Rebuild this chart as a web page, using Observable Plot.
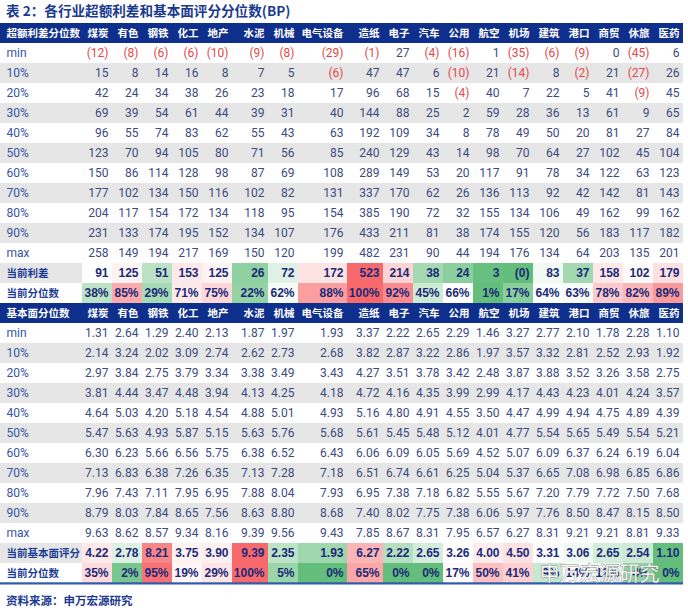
<!DOCTYPE html>
<html><head><meta charset="utf-8">
<script src="https://cdn.jsdelivr.net/npm/d3@7"></script>
<script src="https://cdn.jsdelivr.net/npm/@observablehq/plot@0.6"></script>
<style>
body{margin:0;background:#fff;width:688px;}
#title{height:19px;line-height:20px;font-family:"Noto Sans CJK SC";font-weight:bold;font-size:13.6px;color:#1a3a8f;padding-left:6px;white-space:nowrap;overflow:hidden;}
#source{height:20px;line-height:20px;font-family:"Noto Sans CJK SC";font-weight:bold;font-size:11.5px;color:#1a3a8f;padding-left:6px;white-space:nowrap;}
#chart svg{display:block;}
</style></head><body>
<div id="title">表 2：各行业超额利差和基本面评分分位数(BP)</div>
<div id="chart"></div>
<div id="source">资料来源：申万宏源研究</div>
<script>
// ---------- data ----------
const industries = ["煤炭","有色","钢铁","化工","地产","水泥","机械","电气设备","造纸","电子","汽车","公用","航空","机场","建筑","港口","商贸","休旅","医药"];
const quantiles = ["min","10%","20%","30%","40%","50%","60%","70%","80%","90%","max"];
const spreadHeader = "超额利差分位数";
const scoreHeader = "基本面分位数";
const spreadCurLabel = "当前利差";
const scoreCurLabel = "当前基本面评分";
const pctLabel = "当前分位数";

const spreadMin = [-12,-8,-6,-6,-10,-9,-8,-29,-1,27,-4,-16,1,-35,-6,-9,0,-45,6];
const spreadP10 = [15,8,14,16,8,7,5,-6,47,47,6,-10,21,-14,8,-2,21,-27,26];
const spreadP20 = [42,24,34,38,26,23,18,17,96,68,15,-4,40,7,22,5,41,-9,45];
const spreadP30 = [69,39,54,61,44,39,31,40,144,88,25,2,59,28,36,13,61,9,65];
const spreadP40 = [96,55,74,83,62,55,43,63,192,109,34,8,78,49,50,20,81,27,84];
const spreadP50 = [123,70,94,105,80,71,56,85,240,129,43,14,98,70,64,27,102,45,104];
const spreadP60 = [150,86,114,128,98,87,69,108,289,149,53,20,117,91,78,34,122,63,123];
const spreadP70 = [177,102,134,150,116,102,82,131,337,170,62,26,136,113,92,42,142,81,143];
const spreadP80 = [204,117,154,172,134,118,95,154,385,190,72,32,155,134,106,49,162,99,162];
const spreadP90 = [231,133,174,195,152,134,107,176,433,211,81,38,174,155,120,56,183,117,182];
const spreadMax = [258,149,194,217,169,150,120,199,482,231,90,44,194,176,134,64,203,135,201];
const spreadCurrent = [91,125,51,153,125,26,72,172,523,214,38,24,3,-0.2,83,37,158,102,179];
const spreadPct = [38,85,29,71,75,22,62,88,100,92,45,66,1,17,64,63,78,82,89];

const scoreMin = [1.31,2.64,1.29,2.40,2.13,1.87,1.97,1.93,3.37,2.22,2.65,2.29,1.46,3.27,2.77,2.10,1.78,2.28,1.10];
const scoreP10 = [2.14,3.24,2.02,3.09,2.74,2.62,2.73,2.68,3.82,2.87,3.22,2.86,1.97,3.57,3.32,2.81,2.52,2.93,1.92];
const scoreP20 = [2.97,3.84,2.75,3.79,3.34,3.38,3.49,3.43,4.27,3.51,3.78,3.42,2.48,3.87,3.88,3.52,3.26,3.58,2.75];
const scoreP30 = [3.81,4.44,3.47,4.48,3.94,4.13,4.25,4.18,4.72,4.16,4.35,3.99,2.99,4.17,4.43,4.23,4.01,4.24,3.57];
const scoreP40 = [4.64,5.03,4.20,5.18,4.54,4.88,5.01,4.93,5.16,4.80,4.91,4.55,3.50,4.47,4.99,4.94,4.75,4.89,4.39];
const scoreP50 = [5.47,5.63,4.93,5.87,5.15,5.63,5.76,5.68,5.61,5.45,5.48,5.12,4.01,4.77,5.54,5.65,5.49,5.54,5.21];
const scoreP60 = [6.30,6.23,5.66,6.56,5.75,6.38,6.52,6.43,6.06,6.09,6.05,5.69,4.52,5.07,6.09,6.37,6.24,6.19,6.04];
const scoreP70 = [7.13,6.83,6.38,7.26,6.35,7.13,7.28,7.18,6.51,6.74,6.61,6.25,5.04,5.37,6.65,7.08,6.98,6.85,6.86];
const scoreP80 = [7.96,7.43,7.11,7.95,6.95,7.88,8.04,7.93,6.95,7.38,7.18,6.82,5.55,5.67,7.20,7.79,7.72,7.50,7.68];
const scoreP90 = [8.79,8.03,7.84,8.65,7.56,8.63,8.80,8.68,7.40,8.02,7.75,7.38,6.06,5.97,7.76,8.50,8.47,8.15,8.50];
const scoreMax = [9.63,8.62,8.57,9.34,8.16,9.39,9.56,9.43,7.85,8.67,8.31,7.95,6.57,6.27,8.31,9.21,9.21,8.81,9.33];
const scoreCurrent = [4.22,2.78,8.21,3.75,3.90,9.39,2.35,1.93,6.27,2.22,2.65,3.26,4.00,4.50,3.31,3.06,2.65,2.54,1.10];
const scorePct = [35,2,95,19,29,100,5,0,65,0,0,17,50,41,9,14,12,4,0];

const watermarkText = "申万宏源研究";

// ---------- layout (styles) ----------
const C = {
  header: "#0f2f8c", zebra: "#e6e6e6", label: "#3554a5", num: "#3c4a80",
  neg: "#e3484b", bold: "#1b2a78", boldLabel: "#1d3c93", line: "#2f5cad",
  green: "#63BE7B", mid: "#FFFFFF", red: "#F8696B"
};
const CJK = "Noto Sans CJK SC";
const NUM = "'Liberation Sans Narrow', 'Arial Narrow', Roboto, sans-serif";
const BOLDNUM = "'Liberation Sans', Arial, sans-serif";
const labelUnits = 82;
const colUnits = n => n === "电气设备" ? 49 : (n === "水泥" || n === "造纸") ? 36 : 30;

const colLeft = {}, colRight = {};
let acc = labelUnits;
industries.forEach(n => { colLeft[n] = acc; acc += colUnits(n); colRight[n] = acc; });
const total = acc;

// ---------- rows ----------
const spreadRows = [spreadMin,spreadP10,spreadP20,spreadP30,spreadP40,spreadP50,spreadP60,spreadP70,spreadP80,spreadP90,spreadMax];
const scoreRows = [scoreMin,scoreP10,scoreP20,scoreP30,scoreP40,scoreP50,scoreP60,scoreP70,scoreP80,scoreP90,scoreMax];

const rowKeys = ["h1", ...quantiles.map(q => "s" + q), "s_cur", "s_pct", "h2", ...quantiles.map(q => "f" + q), "f_cur", "f_pct"];
const zebra = [];
["s", "f"].forEach(t => {
  quantiles.forEach((q, i) => { if (i % 2 === 1) zebra.push(t + q); });
  zebra.push(t + "_cur");
});

const fmtSpread = v => v < 0 ? `(${Math.abs(Math.round(v))})` : `${Math.round(v)}`;
const fmtScore = v => v.toFixed(2);
const fmtPct = v => `${v}%`;

function heat(values) {
  const s = d3.scaleLinear()
    .domain([d3.min(values), d3.median(values), d3.max(values)])
    .range([C.green, C.mid, C.red])
    .interpolate(d3.interpolateRgb);
  return values.map(s);
}

const valueCells = [];
const labelCells = [];
const heatCells = [];
const boldCells = [];
const boldLabels = [];

function addTable(prefix, rows, fmt, cur, pct, curLabel) {
  rows.forEach((arr, r) => {
    const key = prefix + quantiles[r];
    labelCells.push({y: key, text: quantiles[r]});
    arr.forEach((v, i) => valueCells.push({y: key, x: colRight[industries[i]], text: fmt(v), fill: v < 0 ? C.neg : C.num}));
  });
  const curFill = heat(cur), pctFill = heat(pct);
  cur.forEach((v, i) => {
    heatCells.push({y: prefix + "_cur", x1: colLeft[industries[i]], x2: colRight[industries[i]], fill: curFill[i]});
    boldCells.push({y: prefix + "_cur", x: colRight[industries[i]], text: fmt(v)});
  });
  pct.forEach((v, i) => {
    heatCells.push({y: prefix + "_pct", x1: colLeft[industries[i]], x2: colRight[industries[i]], fill: pctFill[i]});
    boldCells.push({y: prefix + "_pct", x: colRight[industries[i]], text: fmtPct(v)});
  });
  boldLabels.push({y: prefix + "_cur", text: curLabel});
  boldLabels.push({y: prefix + "_pct", text: pctLabel});
}
addTable("s", spreadRows, fmtSpread, spreadCurrent, spreadPct, spreadCurLabel);
addTable("f", scoreRows, fmtScore, scoreCurrent, scorePct, scoreCurLabel);

const headerCells = [];
[["h1", spreadHeader], ["h2", scoreHeader]].forEach(([key, lab]) => {
  headerCells.push({y: key, x: 0, text: lab, anchor: "start"});
  industries.forEach(n => headerCells.push({y: key, x: colRight[n], text: n, anchor: "end"}));
});

const rowH = 568 / rowKeys.length;

const chart = Plot.plot({
  width: 688, height: 571,
  marginTop: 0, marginBottom: 3, marginLeft: 0, marginRight: 5,
  x: {type: "linear", domain: [0, total], axis: null},
  y: {type: "band", domain: rowKeys, padding: 0, axis: null},
  color: {type: "identity"},
  style: {background: "white", overflow: "visible"},
  marks: [
    Plot.barX(zebra, {x1: 0, x2: total, y: d => d, fill: C.zebra}),
    Plot.barX(["h1", "h2"], {x1: 0, x2: total, y: d => d, fill: C.header}),
    Plot.barX(heatCells, {x1: "x1", x2: "x2", y: "y", fill: "fill"}),
    Plot.text(headerCells.filter(d => d.anchor === "start"), {x: "x", y: "y", text: "text", textAnchor: "start", dx: 6, fill: "white", fontWeight: "bold", fontSize: 10.5, fontFamily: CJK}),
    Plot.text(headerCells.filter(d => d.anchor === "end"), {x: "x", y: "y", text: "text", textAnchor: "end", dx: -4, fill: "white", fontWeight: "bold", fontSize: 10.5, fontFamily: CJK}),
    Plot.text(labelCells, {x: 0, y: "y", text: "text", textAnchor: "start", dx: 6, fill: C.label, fontSize: 12, fontFamily: NUM}),
    Plot.text(valueCells, {x: "x", y: "y", text: "text", textAnchor: "end", dx: -4, fill: "fill", fontSize: 12, fontFamily: NUM}),
    Plot.text(boldLabels, {x: 0, y: "y", text: "text", textAnchor: "start", dx: 6, fill: C.boldLabel, fontWeight: "bold", fontSize: 10.5, fontFamily: CJK}),
    Plot.text(boldCells, {x: "x", y: "y", text: "text", textAnchor: "end", dx: -4, fill: C.bold, fontWeight: "bold", fontSize: 12, fontFamily: BOLDNUM}),
    Plot.barX(["f_pct"], {x1: 0, x2: total, y: d => d, fill: C.line, insetTop: rowH - 1, insetBottom: -1.5}),
    Plot.text([watermarkText], {x: colLeft["商贸"], y: () => "f_pct", text: d => d, textAnchor: "middle", dx: 6, dy: 1, fill: "white", stroke: "#8c8c8c", strokeWidth: 0.8, fontSize: 20, fontFamily: CJK, fillOpacity: 0.9})
  ]
});
document.getElementById("chart").appendChild(chart);
</script>
</body></html>
